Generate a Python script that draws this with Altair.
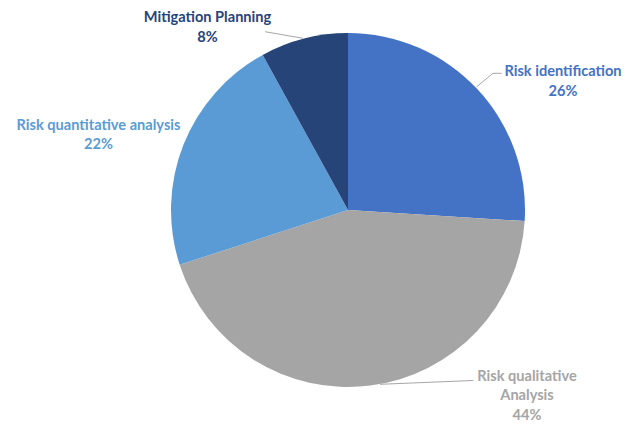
import altair as alt
import pandas as pd

categories = ["Risk identification", "Risk qualitative Analysis",
              "Risk quantitative analysis", "Mitigation Planning"]
values = [26, 44, 22, 8]
colors = ["#4472C4", "#A5A5A5", "#5B9BD5", "#264478"]

df = pd.DataFrame({"category": categories, "value": values, "order": list(range(len(categories)))})

CX, CY, R = 348, 210, 177
FONT = "Lato"

pie = alt.Chart(df).mark_arc(radius=R).encode(
    theta=alt.Theta("value:Q", stack=True),
    order=alt.Order("order:Q"),
    color=alt.Color("category:N", scale=alt.Scale(domain=categories, range=colors), legend=None),
    x=alt.value(CX), y=alt.value(CY),
)

one = pd.DataFrame({"a": [0]})
segments = [
    (265, 31.7, 303, 38.3),
    (476.7, 86.7, 493, 73.3),
    (493, 73.3, 501.7, 73.3),
    (380, 384.3, 473.3, 380.5),
]
leaders = [
    alt.Chart(one).mark_rule(color="#A6A6A6", strokeWidth=1).encode(
        x=alt.value(x1), y=alt.value(y1), x2=alt.value(x2), y2=alt.value(y2))
    for (x1, y1, x2, y2) in segments
]

label_pos = {
    "Risk identification": (563, 76),
    "Risk qualitative Analysis": (527, 380.7),
    "Risk quantitative analysis": (98.5, 129.5),
    "Mitigation Planning": (207.5, 22),
}

labels = []
for cat, col in zip(categories, colors):
    lx, ly = label_pos[cat]
    labels.append(
        alt.Chart(df).transform_filter(alt.datum.category == cat).transform_calculate(
            txt="replace(datum.category, ' Analysis', '\\nAnalysis') + '\\n' + datum.value + '%'"
        ).mark_text(
            font=FONT, fontSize=14.6, fontWeight="bold", color=col, align="center",
            baseline="alphabetic", lineBreak="\n", lineHeight=19.5
        ).encode(text="txt:N", x=alt.value(lx), y=alt.value(ly))
    )

chart = alt.layer(pie, *leaders, *labels).properties(
    width=626, height=424, autosize=alt.AutoSizeParams(type="none"), padding=0
).configure_view(stroke=None)

chart.save("out.html", embed_options={"renderer": "svg", "actions": False})
